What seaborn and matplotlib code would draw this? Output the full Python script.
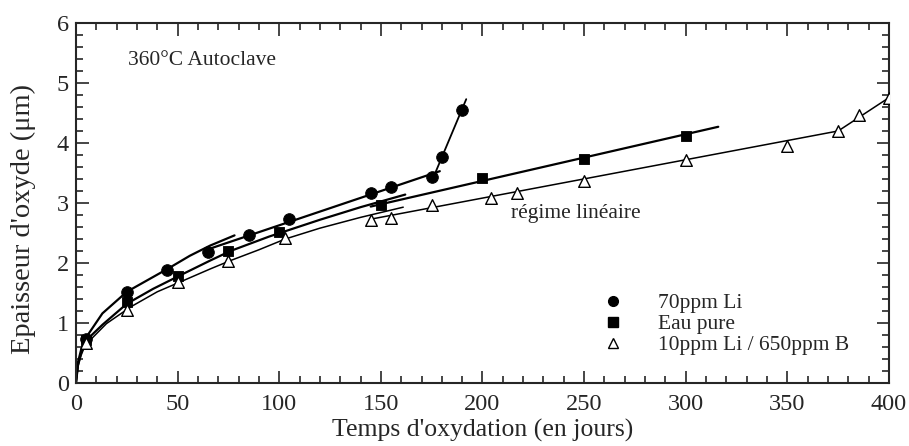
import seaborn as sns
import matplotlib.pyplot as plt
import pandas as pd
from matplotlib.ticker import MultipleLocator
from matplotlib.lines import Line2D

# points mesures
li_t = [5, 25, 45, 65, 85, 105, 145, 155, 175, 180, 190]
li_e = [0.74, 1.51, 1.88, 2.18, 2.47, 2.74, 3.17, 3.26, 3.44, 3.76, 4.55]

eau_t = [5, 25, 50, 75, 100, 150, 200, 250, 300]
eau_e = [0.72, 1.35, 1.78, 2.20, 2.51, 2.97, 3.41, 3.74, 4.12]

b_t = [5, 25, 50, 75, 103, 145, 155, 175, 204, 217, 250, 300, 350, 375, 385, 400]
b_e = [0.67, 1.22, 1.69, 2.04, 2.42, 2.71, 2.75, 2.96, 3.09, 3.17, 3.37, 3.72, 3.95, 4.20, 4.47, 4.75]

# courbes d'ajustement
li_curve_t = [0, 1, 2.5, 5, 13, 25, 46, 56, 66, 78]
li_curve_e = [0, 0.35, 0.55, 0.76, 1.16, 1.52, 1.92, 2.12, 2.29, 2.46]
li_lin_t = [66, 179]
li_lin_e = [2.24, 3.53]
li_fast_t = [177, 192]
li_fast_e = [3.52, 4.73]

eau_curve_t = [0, 1, 2.5, 5, 13, 25, 38, 51, 66, 76, 95, 120, 140, 162]
eau_curve_e = [0, 0.30, 0.50, 0.71, 0.97, 1.32, 1.57, 1.79, 2.04, 2.20, 2.44, 2.72, 2.93, 3.14]
eau_lin_t = [145, 316]
eau_lin_e = [2.94, 4.27]

b_curve_t = [0, 1, 2.5, 4.5, 15, 27, 40, 51, 66, 76, 90, 103, 120, 140, 161]
b_curve_e = [0, 0.28, 0.46, 0.63, 0.99, 1.27, 1.52, 1.68, 1.90, 2.04, 2.22, 2.40, 2.58, 2.76, 2.93]
b_lin_t = [145, 375, 402]
b_lin_e = [2.73, 4.20, 4.80]

labels = ['70ppm Li', 'Eau pure', '10ppm Li / 650ppm B']

sns.set_style('ticks')
plt.rcParams['font.family'] = ['Liberation Serif', 'DejaVu Serif']

fig = plt.figure(figsize=(9.09, 4.46), dpi=100)
ax = fig.add_axes([0.0836, 0.1413, 0.8944, 0.8072])

curves = [
    (li_curve_t, li_curve_e, 1.6), (li_lin_t, li_lin_e, 1.6), (li_fast_t, li_fast_e, 1.3),
    (eau_curve_t, eau_curve_e, 1.6), (eau_lin_t, eau_lin_e, 1.6),
    (b_curve_t, b_curve_e, 1.1), (b_lin_t, b_lin_e, 1.1),
]
for t, e, lw in curves:
    sns.lineplot(x=t, y=e, ax=ax, color='black', lw=lw, sort=False, legend=False)

sns.scatterplot(x=li_t, y=li_e, ax=ax, marker='o', s=70, color='black', edgecolor='black', zorder=3)
sns.scatterplot(x=eau_t, y=eau_e, ax=ax, marker='s', s=60, color='black', edgecolor='black', zorder=3)
sns.scatterplot(x=b_t, y=b_e, ax=ax, marker='^', s=70, facecolor='white', edgecolor='black', linewidth=1, zorder=3)

ax.set_xlim(0, 400)
ax.set_ylim(0, 6)
ax.xaxis.set_major_locator(MultipleLocator(50))
ax.xaxis.set_minor_locator(MultipleLocator(10))
ax.yaxis.set_major_locator(MultipleLocator(1))
ax.yaxis.set_minor_locator(MultipleLocator(0.2))
ax.tick_params(which='both', direction='in', top=True, right=True, width=1.2, labelsize=17.5)
ax.tick_params(which='major', length=9, pad=5)
ax.tick_params(axis='x', which='major', pad=8)
ax.tick_params(which='minor', length=5)
for sp in ax.spines.values():
    sp.set_linewidth(1.5)

ax.set_xlabel("Temps d'oxydation (en jours)", fontsize=18.5, labelpad=3)
ax.set_ylabel("Epaisseur d'oxyde (μm)", fontsize=20.5)
ax.yaxis.set_label_coords(-0.049, 0.455)

ax.text(25.5, 5.37, '360°C Autoclave', fontsize=15.5, va='center')
ax.text(214, 2.82, 'régime linéaire', fontsize=15.5, va='center')

handles = [
    Line2D([], [], ls='none', marker='o', color='black', markersize=7),
    Line2D([], [], ls='none', marker='s', color='black', markersize=6.5),
    Line2D([], [], ls='none', marker='^', markerfacecolor='white', markeredgecolor='black', markersize=7),
]
ax.legend(handles, labels, loc='upper left', bbox_to_anchor=(0.647, 0.25), frameon=False,
          fontsize=15.5, handlelength=1, handletextpad=1.6, labelspacing=0.05, borderpad=0,
          borderaxespad=0)

fig.savefig('out.png', dpi=100)
